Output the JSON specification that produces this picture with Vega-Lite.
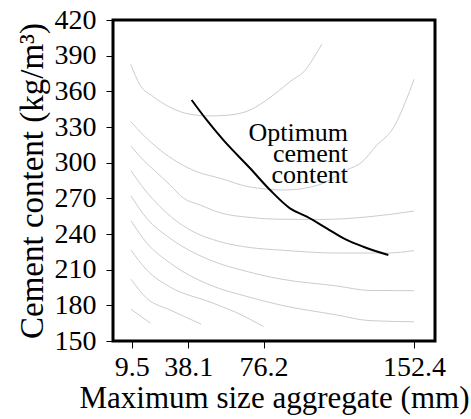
{
  "$schema": "https://vega.github.io/schema/vega-lite/v6.json",
  "width": 322,
  "height": 321,
  "autosize": {"type": "none"},
  "padding": {"left": 113, "top": 20, "right": 36, "bottom": 78},
  "background": "white",
  "config": {
    "view": {"stroke": "black", "strokeWidth": 3},
    "font": "Liberation Serif, DejaVu Serif, serif",
    "text": {"font": "Liberation Serif, DejaVu Serif, serif"},
    "axis": {
      "grid": false,
      "domain": false,
      "ticks": true,
      "tickColor": "black",
      "tickWidth": 1,
      "tickSize": 7,
      "tickCount": 20,
      "labelFont": "Liberation Serif, DejaVu Serif, serif",
      "labelFontSize": 28,
      "labelColor": "black",
      "labelFlush": false,
      "labelOverlap": false,
      "titleFont": "Liberation Serif, DejaVu Serif, serif",
      "titleFontSize": 31,
      "titleFontWeight": "normal",
      "titleColor": "black"
    }
  },
  "datasets": {
    "curves": [
      {"curve": "A", "x": 9.0, "y": 382.7},
      {"curve": "A", "x": 13.7, "y": 365.3},
      {"curve": "A", "x": 20.4, "y": 355.5},
      {"curve": "A", "x": 28.9, "y": 346.6},
      {"curve": "A", "x": 39.0, "y": 340.7},
      {"curve": "A", "x": 49.1, "y": 339.3},
      {"curve": "A", "x": 59.2, "y": 340.1},
      {"curve": "A", "x": 69.4, "y": 344.3},
      {"curve": "A", "x": 79.5, "y": 354.8},
      {"curve": "A", "x": 89.6, "y": 368.1},
      {"curve": "A", "x": 98.1, "y": 379.4},
      {"curve": "A", "x": 101.4, "y": 387.8},
      {"curve": "A", "x": 105.7, "y": 399.6},
      {"curve": "B", "x": 9.0, "y": 334.5},
      {"curve": "B", "x": 15.3, "y": 323.3},
      {"curve": "B", "x": 23.8, "y": 310.7},
      {"curve": "B", "x": 32.3, "y": 300.8},
      {"curve": "B", "x": 42.4, "y": 292.4},
      {"curve": "B", "x": 54.2, "y": 286.9},
      {"curve": "B", "x": 68.5, "y": 279.8},
      {"curve": "B", "x": 87.1, "y": 277.0},
      {"curve": "B", "x": 104.0, "y": 281.2},
      {"curve": "B", "x": 118.3, "y": 293.8},
      {"curve": "B", "x": 126.1, "y": 300.6},
      {"curve": "B", "x": 132.7, "y": 313.2},
      {"curve": "B", "x": 142.8, "y": 331.7},
      {"curve": "B", "x": 147.8, "y": 350.2},
      {"curve": "B", "x": 152.4, "y": 370.1},
      {"curve": "C", "x": 9.1, "y": 314.0},
      {"curve": "C", "x": 15.3, "y": 302.2},
      {"curve": "C", "x": 21.3, "y": 293.0},
      {"curve": "C", "x": 28.9, "y": 281.2},
      {"curve": "C", "x": 35.6, "y": 270.3},
      {"curve": "C", "x": 44.1, "y": 264.4},
      {"curve": "C", "x": 54.2, "y": 257.9},
      {"curve": "C", "x": 69.4, "y": 253.9},
      {"curve": "C", "x": 84.6, "y": 252.4},
      {"curve": "C", "x": 104.8, "y": 252.2},
      {"curve": "C", "x": 130.1, "y": 254.6},
      {"curve": "C", "x": 152.4, "y": 259.3},
      {"curve": "D", "x": 9.1, "y": 293.2},
      {"curve": "D", "x": 16.2, "y": 277.0},
      {"curve": "D", "x": 23.8, "y": 263.0},
      {"curve": "D", "x": 31.4, "y": 251.8},
      {"curve": "D", "x": 39.0, "y": 243.4},
      {"curve": "D", "x": 54.2, "y": 233.5},
      {"curve": "D", "x": 69.4, "y": 228.6},
      {"curve": "D", "x": 84.6, "y": 226.5},
      {"curve": "D", "x": 113.3, "y": 224.0},
      {"curve": "D", "x": 138.6, "y": 224.0},
      {"curve": "D", "x": 152.4, "y": 226.0},
      {"curve": "E", "x": 9.1, "y": 272.0},
      {"curve": "E", "x": 17.1, "y": 253.2},
      {"curve": "E", "x": 28.9, "y": 236.4},
      {"curve": "E", "x": 49.1, "y": 218.1},
      {"curve": "E", "x": 66.8, "y": 208.9},
      {"curve": "E", "x": 84.6, "y": 202.2},
      {"curve": "E", "x": 113.3, "y": 196.3},
      {"curve": "E", "x": 130.1, "y": 192.5},
      {"curve": "E", "x": 152.4, "y": 192.3},
      {"curve": "F", "x": 9.1, "y": 251.2},
      {"curve": "F", "x": 17.1, "y": 232.4},
      {"curve": "F", "x": 28.9, "y": 215.6},
      {"curve": "F", "x": 49.1, "y": 197.1},
      {"curve": "F", "x": 66.8, "y": 187.9},
      {"curve": "F", "x": 84.6, "y": 180.3},
      {"curve": "F", "x": 113.3, "y": 171.9},
      {"curve": "F", "x": 130.1, "y": 167.1},
      {"curve": "F", "x": 152.4, "y": 166.2},
      {"curve": "G", "x": 9.1, "y": 226.5},
      {"curve": "G", "x": 17.1, "y": 209.7},
      {"curve": "G", "x": 28.9, "y": 195.4},
      {"curve": "G", "x": 49.1, "y": 182.8},
      {"curve": "G", "x": 61.8, "y": 174.4},
      {"curve": "G", "x": 76.1, "y": 162.2},
      {"curve": "H", "x": 9.1, "y": 201.9},
      {"curve": "H", "x": 17.1, "y": 185.9},
      {"curve": "H", "x": 28.9, "y": 176.1},
      {"curve": "H", "x": 44.6, "y": 164.3},
      {"curve": "I", "x": 9.1, "y": 176.7},
      {"curve": "I", "x": 19.1, "y": 164.9}
    ],
    "optimum": [
      {"x": 39.8, "y": 352.7},
      {"x": 47.4, "y": 335.9},
      {"x": 55.8, "y": 319.1},
      {"x": 69.4, "y": 295.3},
      {"x": 79.5, "y": 277.0},
      {"x": 89.6, "y": 261.6},
      {"x": 98.1, "y": 254.6},
      {"x": 108.2, "y": 244.8},
      {"x": 118.3, "y": 235.0},
      {"x": 126.7, "y": 229.3},
      {"x": 139.4, "y": 222.3}
    ],
    "note": [
      {"x": 119, "y": 318.5, "label": "Optimum\ncement\ncontent"}
    ]
  },
  "layer": [
    {
      "data": {"name": "curves"},
      "mark": {"type": "line", "color": "#cccccc", "strokeWidth": 1, "interpolate": "monotone"},
      "encoding": {
        "x": {
          "field": "x",
          "type": "quantitative",
          "scale": {"domain": [0, 163], "nice": false, "zero": false},
          "axis": {
            "values": [9.5, 38.1, 76.2, 152.4],
            "format": ".1f",
            "title": "Maximum size aggregate (mm)",
            "labelPadding": 5,
            "titlePadding": 2,
            "labelOverlap": false,
            "tickCount": 20
          }
        },
        "y": {
          "field": "y",
          "type": "quantitative",
          "scale": {"domain": [150, 420], "nice": false, "zero": false},
          "axis": {
            "values": [150, 180, 210, 240, 270, 300, 330, 360, 390, 420],
            "title": "Cement content (kg/m³)",
            "titleFontSize": 33,
            "labelPadding": 10,
            "titlePadding": 5,
            "labelOverlap": false,
            "tickCount": 20
          }
        },
        "detail": {"field": "curve", "type": "nominal"}
      }
    },
    {
      "data": {"name": "optimum"},
      "mark": {"type": "line", "color": "black", "strokeWidth": 2, "interpolate": "monotone"},
      "encoding": {
        "x": {"field": "x", "type": "quantitative"},
        "y": {"field": "y", "type": "quantitative"}
      }
    },
    {
      "data": {"name": "note"},
      "mark": {"type": "text", "align": "right", "baseline": "alphabetic", "fontSize": 26, "lineHeight": 21, "lineBreak": "\n", "font": "Liberation Serif, DejaVu Serif, serif", "color": "black"},
      "encoding": {
        "x": {"field": "x", "type": "quantitative"},
        "y": {"field": "y", "type": "quantitative"},
        "text": {"field": "label"}
      }
    }
  ]
}
